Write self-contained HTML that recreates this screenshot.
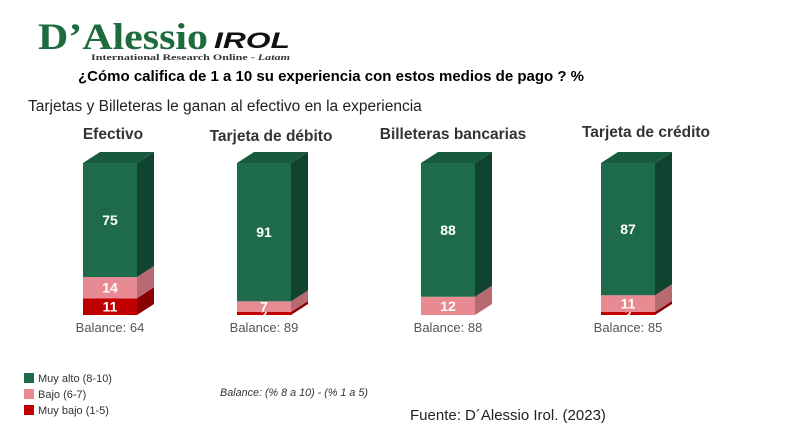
<!DOCTYPE html>
<html><head><meta charset="utf-8"><style>
body{margin:0;background:#fff;width:800px;height:431px;overflow:hidden;font-family:"Liberation Sans",sans-serif}
</style></head><body>
<svg width="800" height="431" xmlns="http://www.w3.org/2000/svg">
<text x="38" y="49" font-family="Liberation Serif,serif" font-weight="bold" font-size="37" fill="#1e6b3e" textLength="170" lengthAdjust="spacingAndGlyphs">D’Alessio</text>
<text x="214" y="48" font-family="Liberation Sans,sans-serif" font-weight="bold" font-style="italic" font-size="22" fill="#111" textLength="76" lengthAdjust="spacingAndGlyphs">IROL</text>
<text x="91" y="60" font-family="Liberation Serif,serif" font-weight="bold" font-size="8" fill="#333" textLength="199" lengthAdjust="spacingAndGlyphs">International Research Online - <tspan font-style="italic">Latam</tspan></text>
<text x="78" y="81" font-weight="bold" font-size="15" fill="#000">¿Cómo califica de 1 a 10 su experiencia con estos medios de pago ? %</text>
<text x="28" y="111" font-size="15.5" fill="#222">Tarjetas y Billeteras le ganan al efectivo en la experiencia</text>
<g id="bars"></g>
<g>
<rect x="24" y="373" width="10" height="10" fill="#1e6b4c"/>
<text x="38" y="382" font-size="11" fill="#333">Muy alto (8-10)</text>
<rect x="24" y="389" width="10" height="10" fill="#e88a92"/>
<text x="38" y="398" font-size="11" fill="#333">Bajo (6-7)</text>
<rect x="24" y="405" width="10" height="10" fill="#c00000"/>
<text x="38" y="414" font-size="11" fill="#333">Muy bajo (1-5)</text>
</g>
<text x="220" y="396" font-size="11" font-style="italic" fill="#333" textLength="148" lengthAdjust="spacingAndGlyphs">Balance: (% 8 a 10) - (% 1 a 5)</text>
<text x="410" y="420" font-size="15" fill="#222">Fuente: D´Alessio Irol. (2023)</text>
</svg>
<script>
const categories=["Efectivo","Tarjeta de débito","Billeteras bancarias","Tarjeta de crédito"];
const muyAlto=[75,91,88,87];
const bajo=[14,7,12,11];
const muyBajo=[11,2,0,2];
const balances=[64,89,88,85];
const NS="http://www.w3.org/2000/svg";
const g=document.getElementById("bars");
const barX=[83,237,421,601], titleX=[113,271,453,646], titleY=[139,141,139,137];
const W=54,DX=17,DY=11,BOTTOM=315,TOTALH=152;
const y=v=>v/100*TOTALH;
const cols=[["#1e6b4c","#175a3e","#114430"],["#e88a92","#f0a5ab","#b86a72"],["#c00000","#d42020","#8a0000"]];
function el(tag,attrs,parent){const e=document.createElementNS(NS,tag);for(const k in attrs)e.setAttribute(k,attrs[k]);parent.appendChild(e);return e;}
categories.forEach((c,i)=>{
  const x=barX[i];
  const grp=el("g",{},g);
  
  
  const t=el("text",{x:titleX[i],y:titleY[i],"text-anchor":"middle","font-size":"15.5","font-weight":"bold",fill:"#333"},grp);
  t.textContent=c;
  
  
  const segs=[[muyBajo[i],2],[bajo[i],1],[muyAlto[i],0]];
  let base=BOTTOM;
  segs.forEach(([v,ci],k)=>{
    if(v<=0)return;
    const h=y(v),top=base-h,col=cols[ci];
    const f=el("rect",{x:x,y:top,width:W,height:h,fill:col[0]},grp);
    
    
    const s=el("polygon",{points:`${x+W},${base} ${x+W+DX},${base-DY} ${x+W+DX},${top-DY} ${x+W},${top}`,fill:col[2]},grp);
    
    
    if(k===2){
      const tp=el("polygon",{points:`${x},${top} ${x+DX},${top-DY} ${x+W+DX},${top-DY} ${x+W},${top}`,fill:col[1]},grp);
      
      
    }
    const lb=el("text",{x:x+W/2,y:top+h/2+5,"text-anchor":"middle","font-size":h<10?"12":"14","font-weight":"bold",fill:"#fff"},grp);
    lb.textContent=v;
    
    
    base=top;
  });
  const bl=el("text",{x:x+W/2,y:BOTTOM+17,"text-anchor":"middle","font-size":"13",fill:"#555"},grp);
  bl.textContent="Balance: "+balances[i];
  
  
});
</script>
</body></html>
